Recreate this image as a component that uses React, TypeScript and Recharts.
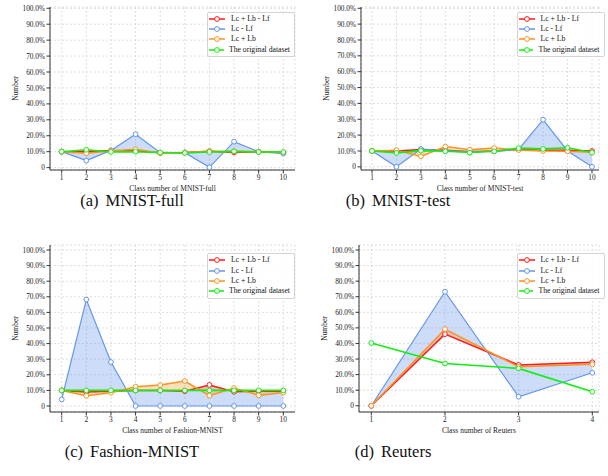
import React from 'react';
import { ComposedChart, Line, Area, XAxis, YAxis, CartesianGrid, Legend } from 'recharts';

const FONT = '"Liberation Serif", "Times New Roman", Times, serif';

// ---------- data ----------
const classes10 = [1, 2, 3, 4, 5, 6, 7, 8, 9, 10];
const classes4 = [1, 2, 3, 4];
const yTicks = [0, 10, 20, 30, 40, 50, 60, 70, 80, 90, 100];

const seriesNames = ['Lc + Lb - Lf', 'Lc - Lf', 'Lc + Lb', 'The original dataset'];

// MNIST-full
const fullRed = [10, 10, 10.8, 10.5, 9.3, 9.5, 10.3, 9.5, 10, 9.5];
const fullBlue = [10, 4.4, 10.8, 21, 9.4, 9.4, 0.2, 16.3, 10, 8.8];
const fullOrange = [10, 9, 10.5, 11.5, 9.2, 9.5, 10.3, 10.3, 10, 9.6];
const fullGreen = [10, 11.2, 9.8, 10, 9.5, 9.2, 9.8, 10.2, 9.8, 9.8];

// MNIST-test
const testRed = [10, 10, 11, 10.5, 9.5, 10, 11, 10.5, 10.5, 10];
const testBlue = [10, 0, 11.2, 10.2, 9.4, 9.8, 11, 29.7, 10, 0];
const testOrange = [10, 10.5, 6.6, 12.8, 10.8, 11.8, 10.6, 10, 9.8, 9.2];
const testGreen = [10, 8.8, 10.2, 9.8, 9, 9.8, 11.8, 11.3, 12, 9];

// Fashion-MNIST
const fashionRed = [10, 9, 9.5, 10, 10, 9.5, 13.5, 9.1, 9.5, 9.5];
const fashionBlue = [4.2, 68.2, 28.2, 0, 0, 0, 0, 0, 0, 0];
const fashionOrange = [10, 6.5, 8.5, 12.4, 13.4, 16, 6.6, 11.5, 6.8, 8.6];
const fashionGreen = [10, 10, 10, 10, 10, 10, 10, 10, 10, 10];

// Reuters
const reutersRed = [0, 46, 26.2, 27.9];
const reutersBlue = [0, 73.2, 5.8, 21.2];
const reutersOrange = [0, 49.2, 25, 26.6];
const reutersGreen = [40.3, 27.1, 24, 9];

// ---------- styles ----------
const RED = '#ff1a1a';
const BLUE = '#6495ed';
const ORANGE = '#ff9224';
const GREEN = '#11ee11';
const colors = [RED, BLUE, ORANGE, GREEN];
const AXIS = '#333333';

function buildRows(x: number[], red: number[], blue: number[], orange: number[], green: number[]) {
  return x.map((c, i) => ({
    x: c,
    red: red[i],
    blue: blue[i],
    orange: orange[i],
    green: green[i],
    blueBand: [blue[i], red[i]],
    orangeBand: [orange[i], red[i]],
  }));
}

const fmtY = (v: number) => (v === 0 ? '0' : v.toFixed(1) + '%');

const LegendBox = () => (
  <div
    style={{
      border: '1px solid #d4d4d4',
      borderRadius: 2,
      background: 'rgba(255,255,255,0.85)',
      padding: '1px 4px 1px 1px',
      fontFamily: FONT,
      fontSize: 7.7,
      color: '#111',
      width: 81,
    }}
  >
    {seriesNames.map((n, i) => (
      <div key={n} style={{ display: 'flex', alignItems: 'center', height: 10.4 }}>
        <svg width={17} height={8} style={{ display: 'block' }}>
          <line x1={0} y1={4} x2={16} y2={4} stroke={colors[i]} strokeWidth={1.5} />
          <circle cx={8} cy={4} r={2.4} fill="#fff" stroke={colors[i]} strokeWidth={1} />
        </svg>
        <span style={{ marginLeft: 5, whiteSpace: 'nowrap', lineHeight: '10px' }}>{n}</span>
      </div>
    ))}
  </div>
);

type PanelProps = {
  rows: any[];
  ticks: number[];
  left: number;
  top: number;
  width: number;
  height: number;
  marginTop: number;
  yWidth: number;
  padL: number;
  padR: number;
  yDomain: [number, number];
  xLabel: string;
  legendLeft: number;
  legendTop: number;
};

const Panel = (p: PanelProps) => {
  const xDomain: [number, number] = [p.ticks[0], p.ticks[p.ticks.length - 1]];
  const dot = (c: string) => ({ r: 2.4, fill: '#fff', stroke: c, strokeWidth: 1 });
  return (
    <div style={{ position: 'absolute', left: p.left, top: p.top, width: p.width, height: p.height }}>
      <ComposedChart
        width={p.width}
        height={p.height}
        data={p.rows}
        margin={{ top: p.marginTop, right: 9, bottom: 0, left: 0 }}
      >
        <CartesianGrid stroke="#d6d6d6" strokeDasharray="2 2" strokeWidth={0.8} />
        <XAxis
          dataKey="x"
          type="number"
          domain={xDomain}
          ticks={p.ticks}
          padding={{ left: p.padL, right: p.padR }}
          height={25}
          tickSize={3.5}
          tickMargin={1}
          stroke={AXIS}
          tick={{ fontFamily: FONT, fontSize: 7.4, fill: '#222' }}
          label={{ value: p.xLabel, position: 'insideBottom', offset: 4.5, fontFamily: FONT, fontSize: 7.5, fill: '#222' }}
          interval={0}
        />
        <XAxis
          xAxisId="top"
          orientation="top"
          type="number"
          domain={xDomain}
          padding={{ left: p.padL, right: p.padR }}
          height={0}
          tick={false}
          tickLine={false}
          stroke={AXIS}
        />
        <YAxis
          type="number"
          domain={p.yDomain}
          ticks={yTicks}
          width={p.yWidth}
          tickSize={3.5}
          tickMargin={1.5}
          stroke={AXIS}
          allowDataOverflow
          tickFormatter={fmtY}
          tick={{ fontFamily: FONT, fontSize: 7.3, fill: '#222' }}
          interval={0}
          label={(lp: any) => {
            const vb = lp.viewBox || { x: 0, y: 0, width: p.yWidth, height: 100 };
            const cx = vb.x + vb.width - 35;
            const cy = vb.y + vb.height / 2;
            return (
              <text
                x={cx}
                y={cy}
                transform={`rotate(-90, ${cx}, ${cy})`}
                textAnchor="middle"
                dominantBaseline="central"
                fontFamily={FONT}
                fontSize={7.5}
                fill="#222"
              >
                Number
              </text>
            );
          }}
        />
        <YAxis
          yAxisId="right"
          orientation="right"
          type="number"
          domain={p.yDomain}
          width={0}
          tick={false}
          tickLine={false}
          stroke={AXIS}
        />
        <Legend
          content={<LegendBox />}
          layout="vertical"
          align="center"
          verticalAlign="middle"
          wrapperStyle={{ left: p.legendLeft, top: p.legendTop, width: 'auto', height: 'auto' }}
        />
        <Area
          type="linear"
          dataKey="blueBand"
          stroke="none"
          fill={BLUE}
          fillOpacity={0.33}
          legendType="none"
          isAnimationActive={false}
          activeDot={false}
        />
        <Area
          type="linear"
          dataKey="orangeBand"
          stroke="none"
          fill={ORANGE}
          fillOpacity={0.3}
          legendType="none"
          isAnimationActive={false}
          activeDot={false}
        />
        <Line type="linear" dataKey="red" name={seriesNames[0]} stroke={RED} strokeWidth={1.5} dot={dot(RED)} isAnimationActive={false} />
        <Line type="linear" dataKey="blue" name={seriesNames[1]} stroke={BLUE} strokeWidth={1.2} dot={dot(BLUE)} isAnimationActive={false} />
        <Line type="linear" dataKey="orange" name={seriesNames[2]} stroke={ORANGE} strokeWidth={1.5} dot={dot(ORANGE)} isAnimationActive={false} />
        <Line type="linear" dataKey="green" name={seriesNames[3]} stroke={GREEN} strokeWidth={1.6} dot={dot(GREEN)} isAnimationActive={false} />
      </ComposedChart>
    </div>
  );
};

const Caption = ({ tag, text, cx, cy }: { tag: string; text: string; cx: number; cy: number }) => (
  <div
    style={{
      position: 'absolute',
      left: cx - 100,
      width: 200,
      top: cy - 6,
      height: 12,
      lineHeight: '12px',
      textAlign: 'center',
      fontFamily: FONT,
      fontSize: 16.5,
      color: '#111',
      whiteSpace: 'nowrap',
    }}
  >
    <span style={{ marginRight: 7 }}>{tag}</span>
    <span>{text}</span>
  </div>
);

export default function App() {
  return (
    <div style={{ position: 'absolute', left: 0, top: 0, width: 608, height: 476, background: '#fff', overflow: 'hidden' }}>
      <Panel
        rows={buildRows(classes10, fullRed, fullBlue, fullOrange, fullGreen)}
        ticks={classes10}
        left={0}
        top={0}
        width={304}
        height={195}
        marginTop={7}
        yWidth={50}
        padL={11.7}
        padR={11.7}
        yDomain={[-1.5, 100.8]}
        xLabel="Class number of MNIST-full"
        legendLeft={207}
        legendTop={11.5}
      />
      <Panel
        rows={buildRows(classes10, testRed, testBlue, testOrange, testGreen)}
        ticks={classes10}
        left={304}
        top={0}
        width={304}
        height={195}
        marginTop={7}
        yWidth={57}
        padL={11}
        padR={7}
        yDomain={[-2, 100.8]}
        xLabel="Class number of MNIST-test"
        legendLeft={212.5}
        legendTop={11.5}
      />
      <Panel
        rows={buildRows(classes10, fashionRed, fashionBlue, fashionOrange, fashionGreen)}
        ticks={classes10}
        left={0}
        top={238}
        width={304}
        height={199}
        marginTop={7}
        yWidth={50}
        padL={11.7}
        padR={11.7}
        yDomain={[-3.85, 103.2]}
        xLabel="Class number of Fashion-MNIST"
        legendLeft={207}
        legendTop={15}
      />
      <Panel
        rows={buildRows(classes4, reutersRed, reutersBlue, reutersOrange, reutersGreen)}
        ticks={classes4}
        left={304}
        top={238}
        width={304}
        height={199}
        marginTop={7}
        yWidth={55}
        padL={12.3}
        padR={6.7}
        yDomain={[-4, 103.2]}
        xLabel="Class number of Reuters"
        legendLeft={212.5}
        legendTop={15}
      />
      <Caption tag="(a)" text="MNIST-full" cx={132} cy={201} />
      <Caption tag="(b)" text="MNIST-test" cx={398} cy={201} />
      <Caption tag="(c)" text="Fashion-MNIST" cx={132} cy={452} />
      <Caption tag="(d)" text="Reuters" cx={393} cy={452} />
    </div>
  );
}
